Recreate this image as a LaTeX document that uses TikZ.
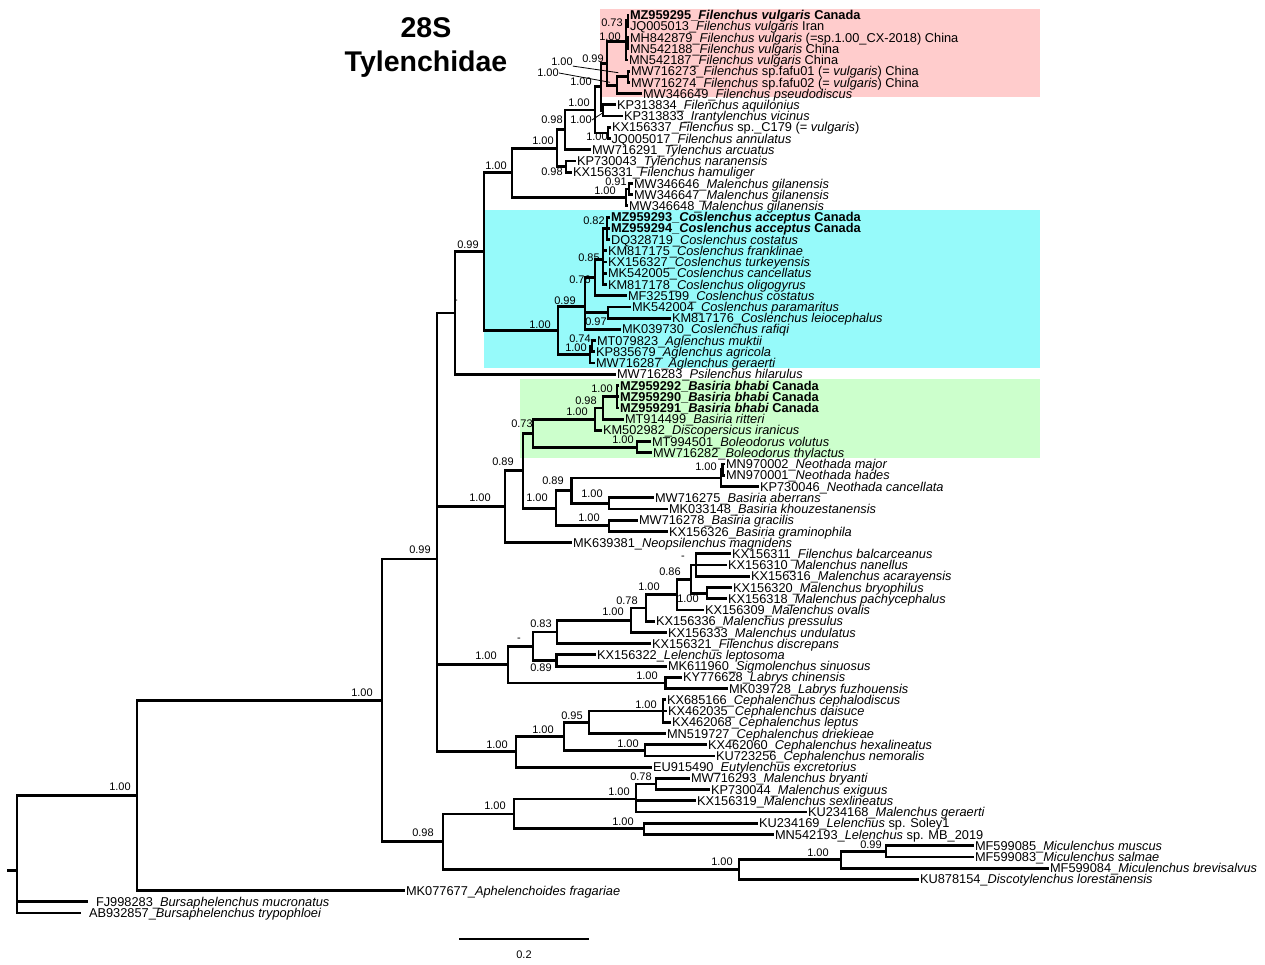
\documentclass[tikz,border=0pt]{standalone}
\usepackage{fontspec}
\setmainfont{Liberation Sans}
\definecolor{pinkbox}{RGB}{255,204,204}
\definecolor{cyanbox}{RGB}{150,250,250}
\definecolor{greenbox}{RGB}{204,255,204}
\tikzset{
  br/.style={line width=2.8pt, line cap=rect},
  leaf/.style={anchor=west, inner xsep=2pt, inner ysep=0pt, outer sep=0pt, font=\fontsize{12.8}{13}\selectfont, text height=9.2pt, text depth=0pt},
  suplab/.style={inner sep=0pt, font=\fontsize{11}{12}\selectfont},
  leader/.style={line width=0.8pt},
}
\newcommand\tip[5]{\node[leaf] (#1) at (#2,#3) {#4};\draw[br] (#5) |- (#1.west);}
\newcommand\inn[4]{\coordinate (#1) at (#2,#3);\draw[br] (#4) |- (#1);}
\newcommand\supp[4]{\node[suplab] (#1) at (#2,#3) {#4};}
\begin{document}
\begin{tikzpicture}[x=1pt,y=-1pt]
\useasboundingbox (0,0) rectangle (1265,964);
% coloured boxes
\fill[pinkbox] (600,9) rectangle (1040,97);
\fill[cyanbox] (484,210) rectangle (1040,368);
\fill[greenbox] (520,379) rectangle (1040,458);
% title
\node[font=\bfseries\fontsize{28.5}{31}\selectfont, anchor=base, inner sep=0pt] (title1) at (426,37) {28S};
\node[font=\bfseries\fontsize{28.5}{31}\selectfont, anchor=base, inner sep=0pt] (title2) at (426,71) {Tylenchidae};
% root
\coordinate (rt) at (8,870.1);
\coordinate (R0) at (17,870.1);
\draw[br] (rt) -- (R0);
\inn{N1}{137}{795.5}{R0}
\inn{N2}{382}{700.4}{N1}
\inn{N3}{437}{559.0}{N2}
\inn{NL}{443}{841.7}{N2}
% upper clade
\inn{D}{455}{313.0}{N3}
\inn{T}{484}{251.7}{D}
\inn{F0}{512}{172.8}{T}
\inn{F1}{557}{148.2}{F0}
\inn{F2}{565}{129.8}{F1}
\inn{F4}{595}{109.9}{F2}
\inn{U}{601}{86.8}{F4}
\inn{F5}{607}{63.2}{U}
\inn{V}{626}{41.2}{F5}
\inn{V1}{628}{20.6}{V}
\inn{V2}{628}{43.1}{V}
\inn{X}{617}{85.2}{F5}
\inn{FA}{628}{76.7}{X}
\inn{KP}{603}{110.4}{U}
\inn{KJ}{608}{132.9}{F4}
\inn{TN}{566}{166.5}{F1}
\inn{MG}{626}{197.4}{F0}
\inn{MG1}{629}{189.0}{MG}
\inn{CA}{558}{330.5}{T}
\inn{CO}{585}{306.5}{CA}
\inn{C76}{595}{277.7}{CO}
\inn{CS}{603}{259.7}{C76}
\inn{CS1}{607}{228.3}{CS}
\inn{P}{608}{312.5}{CO}
\inn{AG}{590}{354.6}{CA}
\inn{AG1}{592}{346.1}{AG}
% Basiria clade
\inn{B0}{505}{506.6}{N3}
\inn{B1}{523}{470.7}{B0}
\inn{G0}{533}{433.2}{B1}
\inn{G1}{595}{419.1}{G0}
\inn{G2}{603}{407.9}{G1}
\inn{G3}{617}{396.7}{G2}
\inn{G5}{637}{447.2}{G0}
\inn{B2}{556}{508.2}{B1}
\inn{B3}{571.5}{490.7}{B2}
\inn{NE}{721}{478.0}{B3}
\inn{NE1}{722.5}{469.6}{NE}
\inn{B5}{609}{503.3}{B3}
\inn{B4}{609}{525.8}{B2}
% Malenchus clade
\inn{M0}{508}{664.5}{N3}
\inn{M1}{533}{646.2}{M0}
\inn{M2}{557}{631.9}{M1}
\inn{M3}{631}{620.1}{M2}
\inn{M4}{646}{607.9}{M3}
\inn{M5}{677}{594.5}{M4}
\inn{M6}{691}{579.1}{M5}
\inn{M7}{696}{565.0}{M6}
\inn{M8}{707}{593.1}{M6}
\inn{M9}{556.5}{660.5}{M1}
\inn{L}{665.5}{682.9}{M0}
% Cephalenchus clade
\inn{C0}{516}{751.7}{N3}
\inn{C1}{564}{736.2}{C0}
\inn{C2}{589}{722.2}{C1}
\inn{C3}{663}{711.0}{C2}
\inn{C4}{645}{750.3}{C1}
% lower clade
\inn{A1}{514}{813.9}{NL}
\inn{A2}{636}{798.9}{A1}
\inn{A2a}{656}{783.9}{A2}
\inn{A3}{644}{828.8}{A1}
\inn{A4}{739}{869.5}{NL}
\inn{A5}{841}{859.7}{A4}
\inn{A6}{886}{851.3}{A5}
% leaves
\tip{l1}{628}{15.0}{\textbf{MZ959295\_\textit{Filenchus vulgaris} Canada}}{V1}
\tip{l2}{628}{26.2}{JQ005013\_\textit{Filenchus vulgaris} Iran}{V1}
\tip{l3}{628}{37.5}{MH842879\_\textit{Filenchus vulgaris} (=sp.1.00\_CX-2018) China}{V2}
\tip{l4}{628}{48.7}{MN542188\_\textit{Filenchus vulgaris} China}{V2}
\tip{l5}{627}{59.9}{MN542187\_\textit{Filenchus vulgaris} China}{V}
\tip{l6}{629}{71.1}{MW716273\_\textit{Filenchus} sp.fafu01 (= \textit{vulgaris}) China}{FA}
\tip{l7}{629}{82.4}{MW716274\_\textit{Filenchus} sp.fafu02 (= \textit{vulgaris}) China}{FA}
\tip{l8}{641}{93.6}{MW346649\_\textit{Filenchus pseudodiscus}}{X}
\tip{l9}{615}{104.8}{KP313834\_\textit{Filenchus aquilonius}}{KP}
\tip{l10}{622}{116.0}{KP313833\_\textit{Irantylenchus vicinus}}{KP}
\tip{l11}{610}{127.3}{KX156337\_\textit{Filenchus} sp.\_C179 (= \textit{vulgaris})}{KJ}
\tip{l12}{609.5}{138.5}{JQ005017\_\textit{Filenchus annulatus}}{KJ}
\tip{l13}{590}{149.7}{MW716291\_\textit{Tylenchus arcuatus}}{F2}
\tip{l14}{575}{160.9}{KP730043\_\textit{Tylenchus naranensis}}{TN}
\tip{l15}{571}{172.2}{KX156331\_\textit{Filenchus hamuliger}}{TN}
\tip{l16}{632}{183.4}{MW346646\_\textit{Malenchus gilanensis}}{MG1}
\tip{l17}{632}{194.6}{MW346647\_\textit{Malenchus gilanensis}}{MG1}
\tip{l18}{627}{205.8}{MW346648\_\textit{Malenchus gilanensis}}{MG}
\tip{l19}{609}{217.1}{\textbf{MZ959293\_\textit{Coslenchus acceptus} Canada}}{CS1}
\tip{l20}{609}{228.3}{\textbf{MZ959294\_\textit{Coslenchus acceptus} Canada}}{CS1}
\tip{l21}{609}{239.5}{DQ328719\_\textit{Coslenchus costatus}}{CS1}
\tip{l22}{606}{250.7}{KM817175\_\textit{Coslenchus franklinae}}{CS}
\tip{l23}{606}{262.0}{KX156327\_\textit{Coslenchus turkeyensis}}{CS}
\tip{l24}{606}{273.2}{MK542005\_\textit{Coslenchus cancellatus}}{CS}
\tip{l25}{606}{284.4}{KM817178\_\textit{Coslenchus oligogyrus}}{CS}
\tip{l26}{626}{295.6}{MF325199\_\textit{Coslenchus costatus}}{C76}
\tip{l27}{630}{306.9}{MK542004\_\textit{Coslenchus paramaritus}}{P}
\tip{l28}{670}{318.1}{KM817176\_\textit{Coslenchus leiocephalus}}{P}
\tip{l29}{620}{329.3}{MK039730\_\textit{Coslenchus rafiqi}}{CO}
\tip{l30}{595}{340.5}{MT079823\_\textit{Aglenchus muktii}}{AG1}
\tip{l31}{594}{351.8}{KP835679\_\textit{Aglenchus agricola}}{AG1}
\tip{l32}{594}{363.0}{MW716287\_\textit{Aglenchus geraerti}}{AG}
\tip{l33}{615}{374.2}{MW716283\_\textit{Psilenchus hilarulus}}{D}
\tip{l34}{618}{385.4}{\textbf{MZ959292\_\textit{Basiria bhabi} Canada}}{G3}
\tip{l35}{618}{396.7}{\textbf{MZ959290\_\textit{Basiria bhabi} Canada}}{G3}
\tip{l36}{618}{407.9}{\textbf{MZ959291\_\textit{Basiria bhabi} Canada}}{G3}
\tip{l37}{623}{419.1}{MT914499\_\textit{Basiria ritteri}}{G2}
\tip{l38}{601}{430.3}{KM502982\_\textit{Discopersicus iranicus}}{G1}
\tip{l39}{650}{441.6}{MT994501\_\textit{Boleodorus volutus}}{G5}
\tip{l40}{651}{452.8}{MW716282\_\textit{Boleodorus thylactus}}{G5}
\tip{l41}{724}{464.0}{MN970002\_\textit{Neothada major}}{NE1}
\tip{l42}{724}{475.2}{MN970001\_\textit{Neothada hades}}{NE1}
\tip{l43}{758}{486.5}{KP730046\_\textit{Neothada cancellata}}{NE}
\tip{l44}{653}{497.7}{MW716275\_\textit{Basiria aberrans}}{B5}
\tip{l45}{667}{508.9}{MK033148\_\textit{Basiria khouzestanensis}}{B5}
\tip{l46}{637}{520.1}{MW716278\_\textit{Basiria gracilis}}{B4}
\tip{l47}{667}{531.4}{KX156326\_\textit{Basiria graminophila}}{B4}
\tip{l48}{571}{542.6}{MK639381\_\textit{Neopsilenchus magnidens}}{B0}
\tip{l49}{730}{553.8}{KX156311\_\textit{Filenchus balcarceanus}}{M7}
\tip{l50}{726}{565.0}{KX156310\_\textit{Malenchus nanellus}}{M7}
\tip{l51}{749}{576.3}{KX156316\_\textit{Malenchus acarayensis}}{M7}
\tip{l52}{731}{587.5}{KX156320\_\textit{Malenchus bryophilus}}{M8}
\tip{l53}{726}{598.7}{KX156318\_\textit{Malenchus pachycephalus}}{M8}
\tip{l54}{703}{609.9}{KX156309\_\textit{Malenchus ovalis}}{M5}
\tip{l55}{654}{621.2}{KX156336\_\textit{Malenchus pressulus}}{M4}
\tip{l56}{666}{632.4}{KX156333\_\textit{Malenchus undulatus}}{M3}
\tip{l57}{650}{643.6}{KX156321\_\textit{Filenchus discrepans}}{M2}
\tip{l58}{595}{654.8}{KX156322\_\textit{Lelenchus leptosoma}}{M9}
\tip{l59}{666}{666.1}{MK611960\_\textit{Sigmolenchus sinuosus}}{M9}
\tip{l60}{681}{677.3}{KY776628\_\textit{Labrys chinensis}}{L}
\tip{l61}{727}{688.5}{MK039728\_\textit{Labrys fuzhouensis}}{L}
\tip{l62}{665}{699.7}{KX685166\_\textit{Cephalenchus cephalodiscus}}{C3}
\tip{l63}{666}{711.0}{KX462035\_\textit{Cephalenchus daisuce}}{C3}
\tip{l64}{670}{722.2}{KX462068\_\textit{Cephalenchus leptus}}{C3}
\tip{l65}{665}{733.4}{MN519727\_\textit{Cephalenchus driekieae}}{C2}
\tip{l66}{706}{744.6}{KX462060\_\textit{Cephalenchus hexalineatus}}{C4}
\tip{l67}{714}{755.9}{KU723256\_\textit{Cephalenchus nemoralis}}{C4}
\tip{l68}{651}{767.1}{EU915490\_\textit{Eutylenchus excretorius}}{C0}
\tip{l69}{689}{778.3}{MW716293\_\textit{Malenchus bryanti}}{A2a}
\tip{l70}{709}{789.5}{KP730044\_\textit{Malenchus exiguus}}{A2a}
\tip{l71}{695}{800.8}{KX156319\_\textit{Malenchus sexlineatus}}{A2}
\tip{l72}{806}{812.0}{KU234168\_\textit{Malenchus geraerti}}{A2}
\tip{l73}{757}{823.2}{KU234169\_\textit{Lelenchus} sp. Soley1}{A3}
\tip{l74}{773}{834.4}{MN542193\_\textit{Lelenchus} sp. MB\_2019}{A3}
\tip{l75}{973}{845.7}{MF599085\_\textit{Miculenchus muscus}}{A6}
\tip{l76}{973}{856.9}{MF599083\_\textit{Miculenchus salmae}}{A6}
\tip{l77}{1048}{868.1}{MF599084\_\textit{Miculenchus brevisalvus}}{A5}
\tip{l78}{918}{879.3}{KU878154\_\textit{Discotylenchus lorestanensis}}{A4}
\tip{l79}{404}{890.6}{MK077677\_\textit{Aphelenchoides fragariae}}{N1}
\node[leaf, inner xsep=9pt] (l80) at (87,901.8) {FJ998283\_\textit{Bursaphelenchus mucronatus}};
\draw[br] (R0) |- (l80.west);
\node[leaf, inner xsep=9pt] (l81) at (80,913.0) {AB932857\_\textit{Bursaphelenchus trypophloei}};
\draw[br] (R0) |- (l81.west);
% support values
\supp{sV1}{612}{23}{0.73}
\supp{sV2}{610}{37}{1.00}
\supp{sF5}{593}{59}{0.99}
\supp{sFA}{562}{62}{1.00}
\supp{sX}{548}{73}{1.00}
\supp{sU}{581}{82}{1.00}
\supp{sF4}{579}{103}{1.00}
\supp{sF2}{552}{120}{0.98}
\supp{sKP}{581}{120}{1.00}
\supp{sKJ}{597}{137}{1.00}
\supp{sF1}{543}{141}{1.00}
\supp{sF0}{496}{166}{1.00}
\supp{sTN}{552}{172}{0.98}
\supp{sMG1}{616}{182}{0.91}
\supp{sMG}{605}{191}{1.00}
\supp{sT}{468}{245}{0.99}
\supp{sCS1}{594}{221}{0.82}
\supp{sCS}{589}{258}{0.85}
\supp{sC76}{580}{280}{0.76}
\supp{sCO}{565}{301}{0.99}
\supp{sP}{596}{322}{0.97}
\supp{sCA}{540}{325}{1.00}
\supp{sAG1}{580}{339}{0.74}
\supp{sAG}{576}{348}{1.00}
\supp{sD}{456}{302}{-}
\supp{sG3}{602}{389}{1.00}
\supp{sG2}{586}{401}{0.98}
\supp{sG1}{577}{412}{1.00}
\supp{sG0}{522}{424}{0.73}
\supp{sG5}{623}{440}{1.00}
\supp{sB1}{503}{462}{0.89}
\supp{sNE}{706}{467}{1.00}
\supp{sB3}{553}{481}{0.89}
\supp{sB0}{480}{498}{1.00}
\supp{sB2}{537}{498}{1.00}
\supp{sB5}{592}{494}{1.00}
\supp{sB4}{589}{518}{1.00}
\supp{sN3}{420}{550}{0.99}
\supp{sM7}{683}{558}{-}
\supp{sM6}{670}{572}{0.86}
\supp{sM5}{649}{587}{1.00}
\supp{sM4}{627}{601}{0.78}
\supp{sM3}{613}{612}{1.00}
\supp{sM2}{541}{624}{0.83}
\supp{sM1}{519}{640}{-}
\supp{sM0}{486}{656}{1.00}
\supp{sM9}{541}{668}{0.89}
\supp{sL}{647}{676}{1.00}
\supp{sM8}{688}{599}{1.00}
\supp{sC3}{646}{705}{1.00}
\supp{sC2}{572}{716}{0.95}
\supp{sC1}{543}{730}{1.00}
\supp{sC0}{497}{745}{1.00}
\supp{sC4}{628}{744}{1.00}
\supp{sA2a}{641}{777}{0.78}
\supp{sA2}{619}{792}{1.00}
\supp{sA1}{495}{806}{1.00}
\supp{sA3}{623}{822}{1.00}
\supp{sNL}{423}{833}{0.98}
\supp{sA6}{871}{845}{0.99}
\supp{sA5}{818}{853}{1.00}
\supp{sA4}{722}{862}{1.00}
\supp{sN2}{362}{693}{1.00}
\supp{sN1}{120}{787}{1.00}
% leader lines
\coordinate (qFA) at (618.3,72.7);
\coordinate (qX) at (610,82.3);
\coordinate (qKP) at (604,112);
\draw[leader] (sFA.south east) -- (qFA);
\draw[leader] (sX.east) -- (qX);
\draw[leader] (sKP.east) -- (qKP);
% scale bar
\coordinate (sb1) at (459,939);
\coordinate (sb2) at (589,939);
\draw[line width=2pt] (sb1) -- (sb2);
\node[suplab] (sblab) at (524,955) {0.2};
\end{tikzpicture}
\end{document}
